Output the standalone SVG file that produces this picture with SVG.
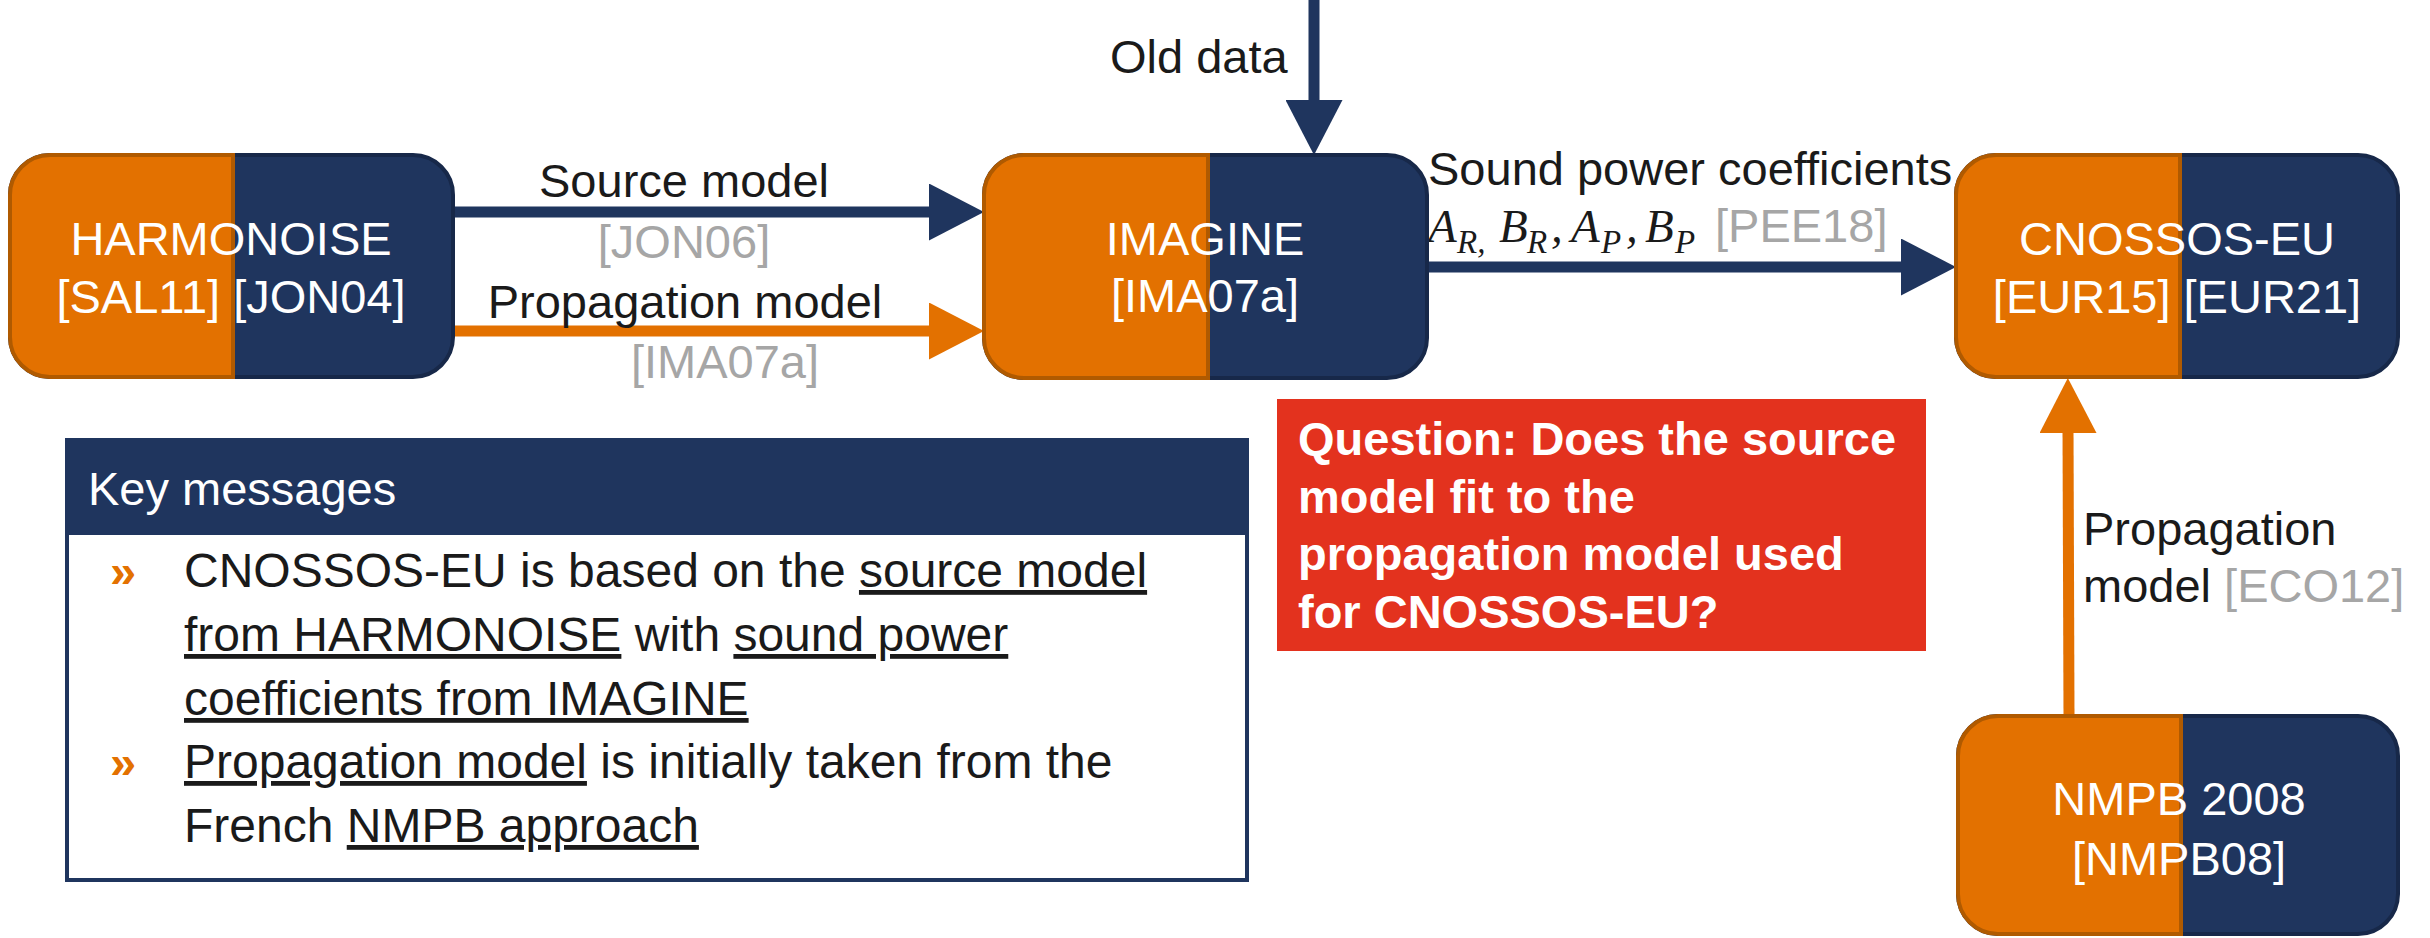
<svg xmlns="http://www.w3.org/2000/svg" width="2430" height="938" viewBox="0 0 2430 938">
<defs>
<style>
text{font-family:"Liberation Sans",Arial,sans-serif;font-size:47px;fill:#1a1a1a}
.w{fill:#ffffff}
.g{fill:#a6a6a6}
.c{text-anchor:middle}
.or{fill:#e37100;stroke:#b05a00;stroke-width:4}
.nv{fill:#1f355e;stroke:#172849;stroke-width:4}
.lb{stroke:#1f355e;stroke-width:11;fill:none}
.lo{stroke:#e37100;stroke-width:11;fill:none}
.m{font-family:"Liberation Serif","Times New Roman",serif;font-style:italic}
.q{font-weight:bold;fill:#ffffff;font-size:47px}
.k{font-size:48px}
.u{text-decoration:underline}
</style>
<marker id="ab" markerUnits="userSpaceOnUse" markerWidth="56" markerHeight="57" refX="5" refY="28.5" orient="auto" viewBox="0 0 56 57"><path d="M0,0 L55,28.5 L0,57 Z" fill="#1f355e"/></marker>
<marker id="ao" markerUnits="userSpaceOnUse" markerWidth="56" markerHeight="57" refX="5" refY="28.5" orient="auto" viewBox="0 0 56 57"><path d="M0,0 L55,28.5 L0,57 Z" fill="#e37100"/></marker>
</defs>
<rect width="2430" height="938" fill="#ffffff"/>

<g id="connectors">
<line class="lb" x1="1314" y1="0" x2="1314" y2="105" marker-end="url(#ab)"/>
<line class="lb" x1="453" y1="212" x2="934" y2="212" marker-end="url(#ab)"/>
<line class="lo" x1="453" y1="331" x2="934" y2="331" marker-end="url(#ao)"/>
<line class="lb" x1="1427" y1="267" x2="1906" y2="267" marker-end="url(#ab)"/>
<line class="lo" x1="2069" y1="716" x2="2068" y2="428" marker-end="url(#ao)"/>
<text x="1110" y="73">Old data</text>
<text class="c" x="684" y="197">Source model</text>
<text class="c g" x="684" y="258">[JON06]</text>
<text class="c" x="685" y="318">Propagation model</text>
<text class="c g" x="725" y="378">[IMA07a]</text>
<text x="1428" y="185">Sound power coefficients</text>
<text class="m" font-size="48"><tspan x="1428" y="242">A</tspan><tspan x="1457" y="253" font-size="33">R,</tspan><tspan x="1499" y="242">B</tspan><tspan x="1527" y="253" font-size="33">R</tspan><tspan x="1551" y="242">,</tspan><tspan x="1571" y="242">A</tspan><tspan x="1601" y="253" font-size="33">P</tspan><tspan x="1626" y="242">,</tspan><tspan x="1645" y="242">B</tspan><tspan x="1675" y="253" font-size="33">P</tspan></text>
<text class="g" x="1715" y="242">[PEE18]</text>
<text x="2083" y="545">Propagation</text>
<text x="2083" y="602">model <tspan class="g">[ECO12]</tspan></text>
</g>

<g id="harmonoise">
<rect class="nv" x="10" y="155" width="443" height="222" rx="40"/>
<path class="or" d="M233,155 H50 A40,40 0 0 0 10,195 V337 A40,40 0 0 0 50,377 H233 Z"/>
<text class="w c" x="231" y="255">HARMONOISE</text>
<text class="w c" x="231" y="313">[SAL11] [JON04]</text>
</g>

<g id="imagine">
<rect class="nv" x="984" y="155" width="443" height="223" rx="40"/>
<path class="or" d="M1208,155 H1024 A40,40 0 0 0 984,195 V338 A40,40 0 0 0 1024,378 H1208 Z"/>
<text class="w c" x="1205" y="255">IMAGINE</text>
<text class="w c" x="1205" y="312">[IMA07a]</text>
</g>

<g id="cnossos">
<rect class="nv" x="1956" y="155" width="442" height="222" rx="40"/>
<path class="or" d="M2180,155 H1996 A40,40 0 0 0 1956,195 V337 A40,40 0 0 0 1996,377 H2180 Z"/>
<text class="w c" x="2177" y="255">CNOSSOS-EU</text>
<text class="w c" x="2177" y="313">[EUR15] [EUR21]</text>
</g>

<g id="nmpb">
<rect class="nv" x="1958" y="716" width="440" height="218" rx="40"/>
<path class="or" d="M2181,716 H1998 A40,40 0 0 0 1958,756 V894 A40,40 0 0 0 1998,934 H2181 Z"/>
<text class="w c" x="2179" y="815">NMPB 2008</text>
<text class="w c" x="2179" y="875">[NMPB08]</text>
</g>

<g id="question">
<rect x="1277" y="399" width="649" height="252" fill="#e3321e"/>
<text class="q" x="1298" y="455">Question: Does the source</text>
<text class="q" x="1298" y="513">model fit to the</text>
<text class="q" x="1298" y="570">propagation model used</text>
<text class="q" x="1298" y="628">for CNOSSOS-EU?</text>
</g>

<g id="key-messages">
<rect x="67" y="440" width="1180" height="440" fill="#ffffff" stroke="#1f355e" stroke-width="4"/>
<rect x="67" y="440" width="1180" height="95" fill="#1f355e"/>
<text class="w" x="88" y="505">Key messages</text>
<text x="110" y="587" style="fill:#e37100;font-weight:bold">»</text>
<text class="k" x="184" y="587">CNOSSOS-EU is based on the <tspan class="u">source model</tspan></text>
<text class="k" x="184" y="651"><tspan class="u">from HARMONOISE</tspan> with <tspan class="u">sound power</tspan></text>
<text class="k" x="184" y="715"><tspan class="u">coefficients from IMAGINE</tspan></text>
<text x="110" y="778" style="fill:#e37100;font-weight:bold">»</text>
<text class="k" x="184" y="778"><tspan class="u">Propagation model</tspan> is initially taken from the</text>
<text class="k" x="184" y="842">French <tspan class="u">NMPB approach</tspan></text>
</g>
</svg>
